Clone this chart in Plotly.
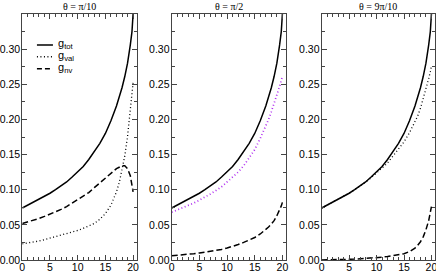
import plotly.graph_objects as go

# x grid (common)
x = [0, 1, 2, 3, 4, 5, 6, 7, 8, 9, 10, 11, 12, 13, 14, 15, 16, 17, 17.5, 18, 18.5, 19, 19.5, 19.8, 20]

# total (same in all panels)
g_tot = [0.074, 0.078, 0.082, 0.086, 0.090, 0.095, 0.100, 0.105, 0.111, 0.118, 0.125, 0.133,
         0.143, 0.154, 0.166, 0.180, 0.198, 0.219, 0.231, 0.245, 0.261, 0.280, 0.306, 0.325, 0.350]

# theta = pi/10
g_val_1 = [0.023, 0.024, 0.026, 0.027, 0.029, 0.031, 0.033, 0.035, 0.037, 0.039, 0.042, 0.045,
           0.048, 0.052, 0.058, 0.066, 0.078, 0.097, 0.110, 0.128, 0.148, 0.176, 0.218, 0.242, 0.252]
g_nv_1 = [0.052, 0.054, 0.056, 0.059, 0.062, 0.065, 0.068, 0.072, 0.076, 0.081, 0.086, 0.091,
          0.096, 0.103, 0.110, 0.117, 0.124, 0.130, 0.132, 0.134, 0.134, 0.130, 0.120, 0.108, 0.097]

# theta = pi/2
g_val_2 = [0.068, 0.071, 0.074, 0.077, 0.081, 0.085, 0.089, 0.094, 0.099, 0.104, 0.111, 0.118,
           0.125, 0.134, 0.145, 0.157, 0.173, 0.190, 0.200, 0.211, 0.222, 0.234, 0.247, 0.255, 0.262]
g_nv_2 = [0.006, 0.0065, 0.007, 0.008, 0.009, 0.010, 0.011, 0.012, 0.014, 0.015, 0.017, 0.019,
          0.022, 0.025, 0.028, 0.032, 0.037, 0.043, 0.047, 0.051, 0.056, 0.063, 0.071, 0.077, 0.082]

# theta = 9pi/10
g_val_3 = [0.074, 0.078, 0.082, 0.086, 0.090, 0.095, 0.100, 0.105, 0.111, 0.117, 0.124, 0.131,
           0.138, 0.148, 0.158, 0.168, 0.181, 0.196, 0.205, 0.216, 0.229, 0.243, 0.258, 0.268, 0.276]
g_nv_3 = [0.0, 0.0, 0.0003, 0.0005, 0.0007, 0.001, 0.0013, 0.0017, 0.002, 0.0025, 0.003, 0.004,
          0.005, 0.006, 0.0075, 0.009, 0.012, 0.017, 0.021, 0.026, 0.033, 0.043, 0.056, 0.067, 0.076]

titles = ["θ = π/10", "θ = π/2", "θ = 9π/10"]
legend_labels = ["g<sub>tot</sub>", "g<sub>val</sub>", "g<sub>nv</sub>"]
val_colors = ["black", "#b030f0", "black"]
val_widths = [1.3, 1.7, 1.3]
x_ticks = [0, 5, 10, 15, 20]
y_ticks = [0.00, 0.05, 0.10, 0.15, 0.20, 0.25, 0.30]

panels = [(g_val_1, g_nv_1), (g_val_2, g_nv_2), (g_val_3, g_nv_3)]
domains = [[0.0007, 0.2777], [0.3625, 0.6392], [0.7257, 1.0]]

fig = go.Figure()
for i, (gv, gn) in enumerate(panels):
    xa = "x" if i == 0 else f"x{i+1}"
    ya = "y" if i == 0 else f"y{i+1}"
    fig.add_trace(go.Scatter(x=x, y=g_tot, mode="lines", xaxis=xa, yaxis=ya,
                             line=dict(color="black", width=1.5), showlegend=False))
    fig.add_trace(go.Scatter(x=x, y=gv, mode="lines", xaxis=xa, yaxis=ya,
                             line=dict(color=val_colors[i], width=val_widths[i], dash="1px,2.5px"),
                             showlegend=False))
    fig.add_trace(go.Scatter(x=x, y=gn, mode="lines", xaxis=xa, yaxis=ya,
                             line=dict(color="black", width=1.5, dash="6px,3px"),
                             showlegend=False))

axis_common = dict(showline=True, linecolor="#444", linewidth=1.2, mirror="allticks",
                   ticks="inside", ticklen=5, tickcolor="#444", tickwidth=1,
                   showgrid=False, zeroline=False, automargin=False,
                   ticklabeloverflow="allow",
                   tickfont=dict(family="Liberation Sans, Arial", size=10.5, color="black"))

layout = dict(width=436, height=273, margin=dict(l=22, r=1, t=14, b=13, autoexpand=False),
              paper_bgcolor="white", plot_bgcolor="white", showlegend=False)
for i in range(3):
    xk = "xaxis" if i == 0 else f"xaxis{i+1}"
    yk = "yaxis" if i == 0 else f"yaxis{i+1}"
    layout[xk] = dict(axis_common, domain=domains[i], range=[0, 20.65],
                      tickvals=x_ticks, anchor="y" if i == 0 else f"y{i+1}",
                      ticklabelstandoff=-3,
                      minor=dict(dtick=1, ticks="inside", ticklen=3, tickcolor="#444"))
    layout[yk] = dict(axis_common, domain=[0, 1], range=[0, 0.35],
                      tickvals=y_ticks, tickformat=".2f", anchor="x" if i == 0 else f"x{i+1}",
                      ticklabelstandoff=-1,
                      minor=dict(dtick=0.025, ticks="inside", ticklen=3, tickcolor="#444"))
fig.update_layout(**layout)

# panel titles
for i, t in enumerate(titles):
    xr = "x domain" if i == 0 else f"x{i+1} domain"
    yr = "y domain" if i == 0 else f"y{i+1} domain"
    fig.add_annotation(text=t, x=0.5, y=1, xref=xr, yref=yr, xanchor="center", yanchor="bottom",
                       showarrow=False, yshift=0,
                       font=dict(family="Liberation Serif, Times New Roman", size=10, color="black"))

# legend (panel 1)
leg_y = [0.874, 0.826, 0.777]
leg_dash = ["solid", "1px,2.5px", "5px,3px"]
for lab, yy, dsh in zip(legend_labels, leg_y, leg_dash):
    fig.add_shape(type="line", xref="x domain", yref="y domain", x0=0.128, x1=0.268, y0=yy, y1=yy,
                  line=dict(color="black", width=1.5, dash=dsh))
    fig.add_annotation(text=lab, x=0.295, y=yy, xref="x domain", yref="y domain",
                       xanchor="left", yanchor="middle", showarrow=False, yshift=1,
                       font=dict(family="Liberation Sans, Arial", size=11, color="black"))

fig.write_html("out.html", config={"displayModeBar": False},
               post_script="document.body.style.margin='0px';document.body.style.padding='0px';")
